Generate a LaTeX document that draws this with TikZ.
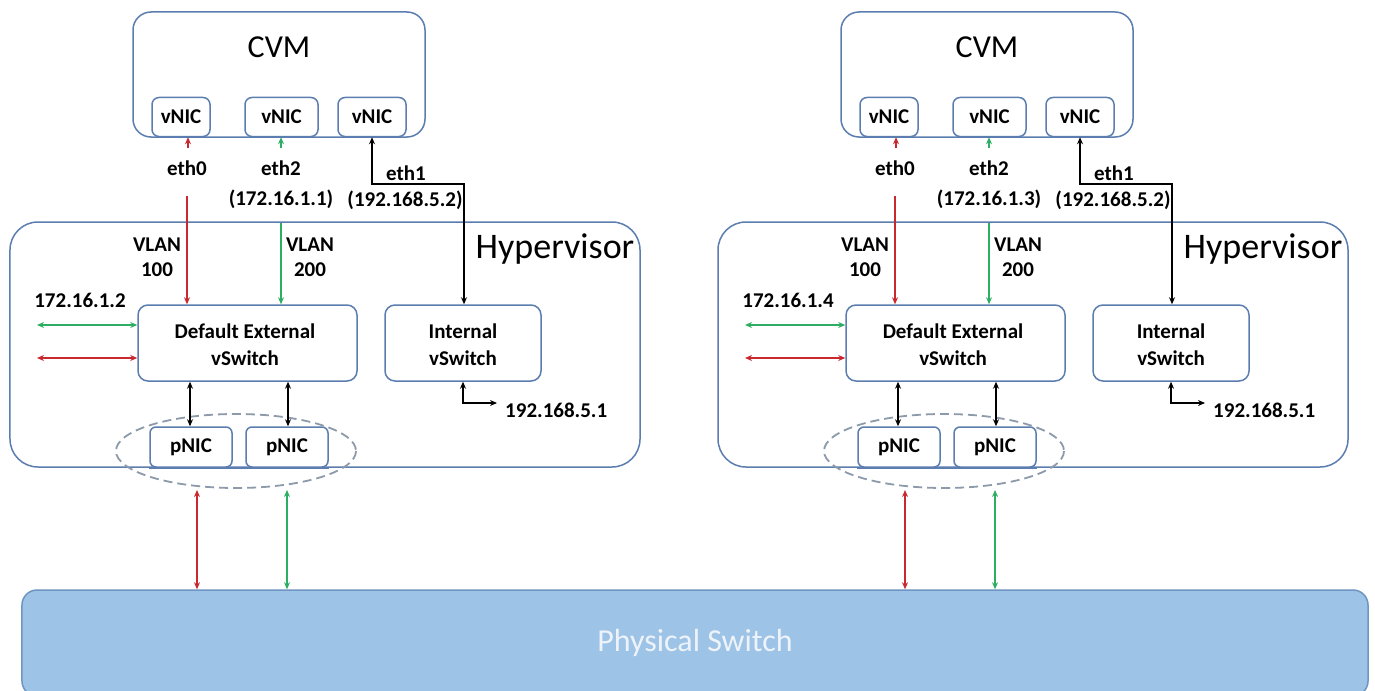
\documentclass[tikz,border=0pt]{standalone}
\usepackage{fontspec}
\setmainfont{Carlito}
\usetikzlibrary{arrows.meta}
\definecolor{boxblue}{HTML}{5B7DB0}
\definecolor{lred}{HTML}{C8282E}
\definecolor{lgreen}{HTML}{2DAE62}
\definecolor{psw}{HTML}{9DC3E6}
\definecolor{pswline}{HTML}{6F95C2}
\definecolor{dashgray}{HTML}{8C9AAA}
\definecolor{pswtext}{HTML}{EEF3FA}
\tikzset{
  bx/.style={draw=boxblue, line width=1.5bp, fill=white, inner sep=0pt},
  lbl/.style={font=\fontsize{21bp}{24bp}\selectfont\bfseries, inner sep=0pt, align=center},
  big/.style={font=\fontsize{32bp}{36bp}\selectfont, inner sep=0pt},
  bigger/.style={font=\fontsize{36bp}{40bp}\selectfont, inner sep=0pt},
  tip/.style={-{Stealth[length=7bp,width=6bp]}},
  dtip/.style={{Stealth[length=7bp,width=6bp]}-{Stealth[length=7bp,width=6bp]}},
  wire/.style={line width=1.5bp},
  grp/.style={draw=dashgray, dash pattern=on 9bp off 5bp, line width=1.8bp}
}
\newcommand\panel[4]{%
\begin{scope}[xshift=#1]
  % CVM
  \node[bx, rounded corners=18bp, minimum width=292bp, minimum height=125bp] (#2cvm) at (279,74.5) {};
  \node[big] (#2cvmt) at (279,47) {CVM};
  \node[bx, lbl, rounded corners=7bp, minimum width=58bp, minimum height=39bp] (#2n0) at (181,117) {vNIC};
  \node[bx, lbl, rounded corners=7bp, minimum width=73bp, minimum height=39bp] (#2n1) at (281.5,117) {vNIC};
  \node[bx, lbl, rounded corners=7bp, minimum width=68bp, minimum height=39bp] (#2n2) at (372,117) {vNIC};
  % Hypervisor
  \node[bx, fill=none, rounded corners=28bp, minimum width=630bp, minimum height=245bp] (#2hyp) at (325,344.5) {};
  \node[bigger] (#2hypt) at (555,249) {Hypervisor};
  \node[bx, lbl, rounded corners=10bp, minimum width=219bp, minimum height=76bp] (#2ext) at (247.5,343) {};
  \node[lbl] (#2ext1) at (245,331) {Default External};
  \node[lbl] (#2ext2) at (245,358) {vSwitch};
  \node[bx, lbl, rounded corners=10bp, minimum width=156bp, minimum height=76bp] (#2int) at (463,343) {};
  \node[lbl] (#2int1) at (463,331) {Internal};
  \node[lbl] (#2int2) at (463,358) {vSwitch};
  \node[bx, lbl, rounded corners=6bp, minimum width=82bp, minimum height=40bp] (#2p0) at (191,447) {pNIC};
  \node[bx, lbl, rounded corners=6bp, minimum width=82bp, minimum height=40bp] (#2p1) at (287,447) {pNIC};
  \draw[boxblue, line width=1.5bp] (#2p0.south west) -- (#2p1.south east);
  \draw[grp] (236,451) ellipse [x radius=120, y radius=37];
  % labels
  \node[lbl] (#2l0) at (187,168) {eth0};
  \node[lbl] (#2l2) at (281,168) {eth2};
  \node[lbl] (#2l2b) at (281,199) {#3};
  \node[lbl] (#2l1) at (406,173) {eth1};
  \node[lbl] (#2l1b) at (405,200) {(192.168.5.2)};
  \node[lbl] (#2v1) at (157,245) {VLAN};
  \node[lbl] (#2v1b) at (157,270) {100};
  \node[lbl] (#2v2) at (310,245) {VLAN};
  \node[lbl] (#2v2b) at (310,270) {200};
  \node[lbl] (#2ip) at (80,300) {#4};
  \node[lbl, anchor=west] (#2ipi) at (505,410) {192.168.5.1};
  % connectors
  \coordinate (#2a0) at (188,148);
  \draw[wire, lred, tip] (#2a0) -- (#2a0 |- #2n0.south);
  \coordinate (#2a1) at (281,148);
  \draw[wire, lgreen, tip] (#2a1) -- (#2a1 |- #2n1.south);
  \coordinate (#2b0) at (187,196);
  \draw[wire, lred, tip] (#2b0) -- (#2b0 |- #2ext.north);
  \coordinate (#2b1) at (281,223);
  \draw[wire, lgreen, tip] (#2b1) -- (#2b1 |- #2ext.north);
  \coordinate (#2k) at (464,184);
  \draw[wire, dtip] (#2n2.south) |- (#2k) -- (#2k |- #2int.north);
  \coordinate (#2g) at (37,325);
  \draw[wire, lgreen, dtip] (#2g) -- (#2g -| #2ext.west);
  \coordinate (#2r) at (37,358);
  \draw[wire, lred, dtip] (#2r) -- (#2r -| #2ext.west);
  \coordinate (#2c0) at (190,0);
  \draw[wire, dtip] (#2c0 |- #2ext.south) -- (#2c0 |- #2p0.north);
  \coordinate (#2c1) at (288,0);
  \draw[wire, dtip] (#2c1 |- #2ext.south) -- (#2c1 |- #2p1.north);
  \coordinate (#2e) at (497,403);
  \draw[wire, dtip] (#2int.south) |- (#2e);
  \coordinate (#2d0) at (197,490);
  \draw[wire, lred, dtip] (#2d0) -- (#2d0 |- psw.north);
  \coordinate (#2d1) at (287,490);
  \draw[wire, lgreen, dtip] (#2d1) -- (#2d1 |- psw.north);
\end{scope}}
\begin{document}
\begin{tikzpicture}[x=1bp, y=-1bp]
  \useasboundingbox (0,0) rectangle (1375,690);
  \fill[white] (0,0) rectangle (1375,690);
  \node[draw=pswline, fill=psw, line width=1.5bp, rounded corners=15bp, minimum width=1346bp, minimum height=106bp, inner sep=0pt] (psw) at (695,643) {};
  \node[font=\fontsize{32bp}{36bp}\selectfont, text=pswtext, inner sep=0pt] (pswt) at (695,643) {Physical Switch};
  \panel{0bp}{L}{(172.16.1.1)}{172.16.1.2}
  \panel{708bp}{R}{(172.16.1.3)}{172.16.1.4}
\end{tikzpicture}
\end{document}
